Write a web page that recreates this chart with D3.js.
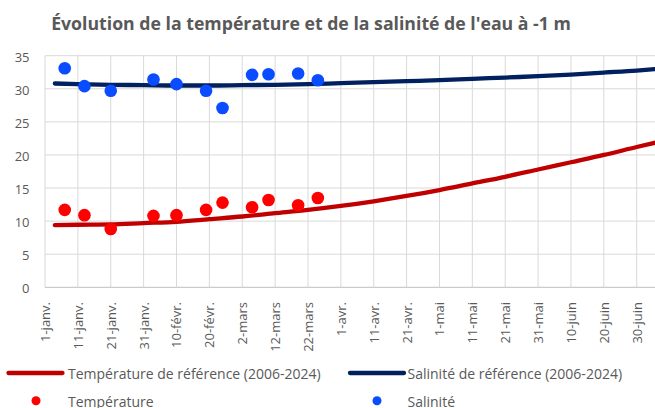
<!DOCTYPE html>
<html>
<head>
<meta charset="utf-8">
<script src="https://cdn.jsdelivr.net/npm/d3@7"></script>
<style>
  html, body { margin: 0; padding: 0; background: #fff; }
  svg { display: block; font-family: "Open Sans", sans-serif; }
</style>
</head>
<body>
<svg id="chart" width="655" height="408"></svg>
<script>
// ---- Data ----
const title = "Évolution de la température et de la salinité de l'eau à -1 m";

// Measurement dates (2025, non-leap calendar) and values
const obsDates = ["2025-01-07","2025-01-13","2025-01-21","2025-02-03","2025-02-10","2025-02-19","2025-02-24","2025-03-05","2025-03-10","2025-03-19","2025-03-25"];
const temperature = [11.7, 10.9, 8.8, 10.8, 10.9, 11.7, 12.8, 12.1, 13.2, 12.4, 13.5];
const salinity    = [33.1, 30.4, 29.7, 31.4, 30.7, 29.7, 27.1, 32.1, 32.2, 32.3, 31.3];

// Reference curves (2006-2024)
const refDates = ["2025-01-04","2025-01-11","2025-01-21","2025-01-31","2025-02-10","2025-02-20","2025-03-02","2025-03-12","2025-03-22","2025-04-01","2025-04-11","2025-04-21","2025-05-01","2025-05-11","2025-05-21","2025-05-31","2025-06-10","2025-06-20","2025-06-30","2025-07-06"];
const refTemperature = [9.4, 9.45, 9.5, 9.7, 9.9, 10.3, 10.7, 11.2, 11.7, 12.3, 13.0, 13.8, 14.7, 15.7, 16.7, 17.8, 18.9, 20.0, 21.2, 21.9];
const refSalinity    = [30.8, 30.7, 30.6, 30.55, 30.5, 30.5, 30.55, 30.6, 30.7, 30.85, 31.0, 31.15, 31.3, 31.5, 31.7, 31.9, 32.15, 32.45, 32.75, 33.0];

// Axis ticks
const xTickDates  = ["2025-01-01","2025-01-11","2025-01-21","2025-01-31","2025-02-10","2025-02-20","2025-03-02","2025-03-12","2025-03-22","2025-04-01","2025-04-11","2025-04-21","2025-05-01","2025-05-11","2025-05-21","2025-05-31","2025-06-10","2025-06-20","2025-06-30"];
const xTickLabels = ["1-janv.","11-janv.","21-janv.","31-janv.","10-févr.","20-févr.","2-mars","12-mars","22-mars","1-avr.","11-avr.","21-avr.","1-mai","11-mai","21-mai","31-mai","10-juin","20-juin","30-juin"];
const yTicks = [0, 5, 10, 15, 20, 25, 30, 35];

const seriesNames = ["Température de référence (2006-2024)", "Salinité de référence (2006-2024)", "Température", "Salinité"];

// ---- Drawing ----
const parse = d3.utcParse("%Y-%m-%d");
const svg = d3.select("#chart");
const textColor = "#595959";
const gridColor = "#d9d9d9";
const cTempRef = "#c00000", cSalRef = "#002060", cTemp = "#ff0000", cSal = "#0a4cff";

const plotLeft = 45, plotTop = 55.7, plotBottom = 287.3;
const x = d3.scaleUtc()
  .domain([parse("2025-01-01"), parse("2025-06-30")])
  .range([plotLeft, 636.7]);
const y = d3.scaleLinear().domain([0, 35]).range([plotBottom, plotTop]);
const rightEdge = 660;

// Horizontal gridlines
svg.append("g").selectAll("line").data(yTicks).join("line")
  .attr("x1", plotLeft).attr("x2", rightEdge)
  .attr("y1", d => y(d)).attr("y2", d => y(d))
  .attr("stroke", d => d === 0 ? "#bfbfbf" : gridColor).attr("stroke-width", 1);

// Vertical gridlines
svg.append("g").selectAll("line").data(xTickDates).join("line")
  .attr("x1", d => x(parse(d))).attr("x2", d => x(parse(d)))
  .attr("y1", plotTop).attr("y2", plotBottom)
  .attr("stroke", gridColor).attr("stroke-width", 1);

// Y axis labels
svg.append("g").selectAll("text").data(yTicks).join("text")
  .attr("x", 29.5).attr("y", d => y(d) + 1)
  .attr("text-anchor", "end").attr("dominant-baseline", "central")
  .attr("fill", textColor).style("font-size", "13px")
  .text(d => d);

// X axis labels (rotated)
svg.append("g").selectAll("text").data(xTickDates).join("text")
  .attr("transform", d => `translate(${x(parse(d))},302) rotate(-90)`)
  .attr("text-anchor", "end").attr("dominant-baseline", "central")
  .attr("fill", textColor).style("font-size", "13px")
  .text((d, i) => xTickLabels[i]);

// Clip for plot area
svg.append("clipPath").attr("id", "plotclip")
  .append("rect").attr("x", plotLeft).attr("y", 0).attr("width", 700).attr("height", 300);

const line = d3.line().x(d => x(d[0])).y(d => y(d[1])).curve(d3.curveMonotoneX);
const refT = refDates.map((d, i) => [parse(d), refTemperature[i]]);
const refS = refDates.map((d, i) => [parse(d), refSalinity[i]]);

const plot = svg.append("g").attr("clip-path", "url(#plotclip)");
plot.append("path").datum(refT).attr("d", line)
  .attr("fill", "none").attr("stroke", cTempRef).attr("stroke-width", 4.3).attr("stroke-linecap", "round");
plot.append("path").datum(refS).attr("d", line)
  .attr("fill", "none").attr("stroke", cSalRef).attr("stroke-width", 4.3).attr("stroke-linecap", "round");

plot.append("g").selectAll("circle").data(obsDates).join("circle")
  .attr("cx", d => x(parse(d))).attr("cy", (d, i) => y(salinity[i])).attr("r", 6.3)
  .attr("fill", cSal);
plot.append("g").selectAll("circle").data(obsDates).join("circle")
  .attr("cx", d => x(parse(d))).attr("cy", (d, i) => y(temperature[i])).attr("r", 6.3)
  .attr("fill", cTemp);

// Title
svg.append("text").attr("x", 311).attr("y", 30)
  .attr("text-anchor", "middle")
  .attr("fill", textColor).style("font-size", "17.7px").style("font-weight", "bold")
  .text(title);

// Legend
const legend = [
  {name: seriesNames[0], type: "line", color: cTempRef, sx: 8.5, tx: 68, y: 373},
  {name: seriesNames[1], type: "line", color: cSalRef, sx: 350, tx: 407.5, y: 373},
  {name: seriesNames[2], type: "dot", color: cTemp, sx: 36, tx: 68, y: 400.7},
  {name: seriesNames[3], type: "dot", color: cSal, sx: 377, tx: 407.5, y: 400.7}
];
const lg = svg.append("g");
legend.forEach(l => {
  if (l.type === "line") {
    lg.append("line").attr("x1", l.sx).attr("x2", l.sx + 54).attr("y1", l.y).attr("y2", l.y)
      .attr("stroke", l.color).attr("stroke-width", 4.3).attr("stroke-linecap", "round");
  } else {
    lg.append("circle").attr("cx", l.sx).attr("cy", l.y).attr("r", 4.5).attr("fill", l.color);
  }
  lg.append("text").attr("x", l.tx).attr("y", l.y + 0.8).attr("dominant-baseline", "central")
    .attr("fill", textColor).style("font-size", "14px").text(l.name);
});
</script>
</body>
</html>
